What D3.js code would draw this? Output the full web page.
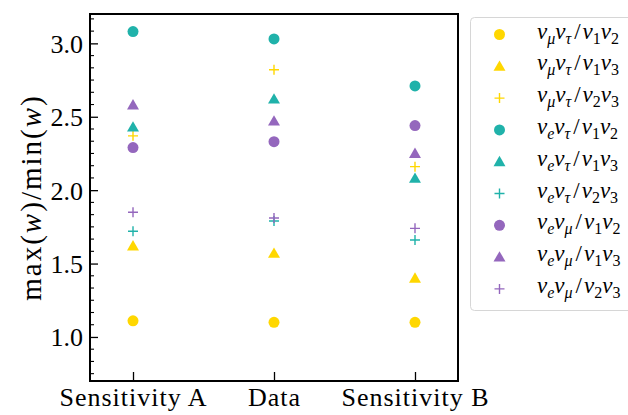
<!DOCTYPE html>
<html lang="en">
  <head>
    <meta charset="utf-8" />
    <title>max(w)/min(w)</title>
    <script src="https://d3js.org/d3.v7.min.js"></script>
    <style>
      body {
        margin: 0;
        background: #fff;
      }
    </style>
  </head>

  <body>
    <svg id="chart"></svg>

    <script>
      const FONT = "'Liberation Serif'";

      // categories on the x axis
      const categories = ["Sensitivity A", "Data", "Sensitivity B"];

      // one entry per ratio: [flavour, flavour, mass state, mass state]
      const seriesNames = [
        ["μ", "τ", "1", "2"],
        ["μ", "τ", "1", "3"],
        ["μ", "τ", "2", "3"],
        ["e", "τ", "1", "2"],
        ["e", "τ", "1", "3"],
        ["e", "τ", "2", "3"],
        ["e", "μ", "1", "2"],
        ["e", "μ", "1", "3"],
        ["e", "μ", "2", "3"],
      ];
      const seriesColors = ["gold", "gold", "gold", "teal", "teal", "teal", "purple", "purple", "purple"];
      const seriesShapes = ["circle", "triangle", "plus", "circle", "triangle", "plus", "circle", "triangle", "plus"];

      // values per series, in order of categories
      const muTau12 = [1.11, 1.1, 1.1];
      const muTau13 = [1.62, 1.57, 1.4];
      const muTau23 = [2.37, 2.82, 2.16];
      const eTau12 = [3.08, 3.03, 2.71];
      const eTau13 = [2.43, 2.62, 2.08];
      const eTau23 = [1.72, 1.79, 1.66];
      const eMu12 = [2.29, 2.33, 2.44];
      const eMu13 = [2.58, 2.47, 2.25];
      const eMu23 = [1.85, 1.81, 1.74];
      const seriesValues = [muTau12, muTau13, muTau23, eTau12, eTau13, eTau23, eMu12, eMu13, eMu23];

      const yTicks = [1.0, 1.5, 2.0, 2.5, 3.0];

      const palette = { gold: "#ffd700", teal: "#20b2aa", purple: "#9467bd" };

      const W = 628;
      const H = 415;
      const margin = { top: 14, left: 90, right: 170, bottom: 34 };

      const svg = d3.select("#chart").attr("width", W).attr("height", H);

      const x = d3.scaleLinear().domain([-0.305, 2.305]).range([margin.left, W - margin.right]);
      const y = d3.scaleLinear().domain([0.7, 3.2]).range([H - margin.bottom, margin.top]);

      const symbols = {
        circle: d3.symbol(d3.symbolCircle, 95),
        triangle: d3.symbol(d3.symbolTriangle, 62),
      };

      function drawMarker(g, shape, color, cx, cy) {
        if (shape === "plus") {
          g.append("path")
            .attr("d", `M${cx - 5},${cy}H${cx + 5}M${cx},${cy - 5}V${cy + 5}`)
            .attr("stroke", palette[color])
            .attr("stroke-width", 1.4)
            .attr("fill", "none");
        } else {
          g.append("path")
            .attr("d", symbols[shape]())
            .attr("transform", `translate(${cx},${cy + (shape === "triangle" ? 1 : 0)})`)
            .attr("fill", palette[color]);
        }
      }

      // axes (ticks point inward)
      const yAxis = d3.axisLeft(y).tickValues(yTicks).tickSize(-8).tickPadding(7).tickFormat(d3.format(".1f"));
      const gy = svg.append("g").attr("transform", `translate(${margin.left},0)`).call(yAxis);
      gy.attr("font-family", null).attr("font-size", null);
      gy.select(".domain").remove();
      gy.selectAll(".tick line").attr("stroke-width", 1.3);
      gy.selectAll(".tick text").style("font-family", FONT).style("font-size", "26px").attr("dy", "0.34em");

      // minor ticks every 1/12
      const minor = d3.range(-3, 27).map((k) => 1 + k / 12).filter((v) => Math.abs(v * 2 - Math.round(v * 2)) > 1e-6);
      svg.append("g")
        .selectAll("line")
        .data(minor)
        .join("line")
        .attr("x1", margin.left)
        .attr("x2", margin.left + 4)
        .attr("y1", (d) => y(d))
        .attr("y2", (d) => y(d))
        .attr("stroke", "#000")
        .attr("stroke-width", 1.1);

      const xAxis = d3.axisBottom(x).tickValues(d3.range(categories.length)).tickSize(-9).tickPadding(0).tickFormat((i) => categories[i]);
      const gx = svg.append("g").attr("transform", `translate(0,${H - margin.bottom})`).call(xAxis);
      gx.attr("font-family", null).attr("font-size", null);
      gx.select(".domain").remove();
      gx.selectAll(".tick line").attr("stroke-width", 1.3);
      gx.selectAll(".tick text")
        .style("font-family", FONT)
        .style("font-size", "26px")
        .attr("letter-spacing", 1)
        .attr("y", 25)
        .attr("dy", null);

      // frame
      svg.append("rect")
        .attr("x", margin.left)
        .attr("y", margin.top)
        .attr("width", W - margin.right - margin.left)
        .attr("height", H - margin.bottom - margin.top)
        .attr("fill", "none")
        .attr("stroke", "#000")
        .attr("stroke-width", 2);

      // y label
      const ylab = svg.append("text")
        .attr("transform", `translate(41,${(margin.top + H - margin.bottom) / 2}) rotate(-90)`)
        .attr("text-anchor", "middle")
        .style("font-family", FONT)
        .style("font-size", "29px")
        .attr("letter-spacing", 2);
      [["max(", false], ["w", true], [")/min(", false], ["w", true], [")", false]].forEach(([t, it]) => {
        ylab.append("tspan").text(t).attr("font-style", it ? "italic" : "normal");
      });

      // points
      const gp = svg.append("g");
      seriesValues.forEach((vals, s) => {
        vals.forEach((v, i) => drawMarker(gp, seriesShapes[s], seriesColors[s], x(i), y(v)));
      });

      // legend
      const lg = svg.append("g");
      lg.append("rect")
        .attr("x", 470.5)
        .attr("y", 17.5)
        .attr("width", 170)
        .attr("height", 293)
        .attr("rx", 4)
        .attr("fill", "#fff")
        .attr("stroke", "#d6d6d6");

      seriesNames.forEach((nm, s) => {
        const ry = 34.5 + s * 31.8;
        drawMarker(lg, seriesShapes[s], seriesColors[s], 499.5, ry);
        const t = lg.append("text")
          .attr("x", 537)
          .attr("y", ry + 4)
          .style("font-family", FONT)
          .style("font-size", "23px");
        const parts = [
          ["ν", "i"], [nm[0], "s"], ["ν", "i"], [nm[1], "s"], ["/", "n"],
          ["ν", "i"], [nm[2], "s"], ["ν", "i"], [nm[3], "s"],
        ];
        let low = false;
        let afterSlash = false;
        parts.forEach(([txt, kind]) => {
          const ts = t.append("tspan").text(txt);
          if (kind === "s") {
            ts.style("font-size", "16px").attr("dy", low ? 0 : 5)
              .attr("font-style", /[0-9]/.test(txt) ? "normal" : "italic");
            low = true;
          } else {
            ts.attr("font-style", kind === "i" ? "italic" : "normal").attr("dy", low ? -5 : 0);
            if (kind === "n") ts.attr("dx", 3);
            if (afterSlash) ts.attr("dx", 2);
            afterSlash = kind === "n";
            low = false;
          }
        });
      });
    </script>
  </body>
</html>
